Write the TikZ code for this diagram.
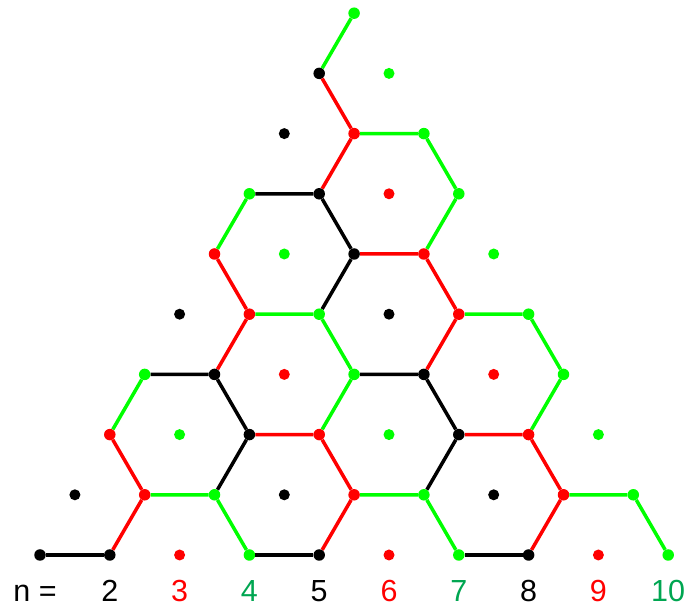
\documentclass[tikz,border=0pt]{standalone}
\usepackage{fontspec}
\setmainfont{Liberation Sans}
\usepackage{tikz}
\definecolor{c0}{RGB}{255,0,0}
\definecolor{c1}{RGB}{0,255,0}
\definecolor{c2}{RGB}{0,0,0}
\definecolor{labgreen}{RGB}{0,166,81}

\begin{document}
\begin{tikzpicture}[
  x=1pt, y=1pt,
  font=\fontsize{30.5}{36}\selectfont,
  vtx/.style={circle, inner sep=0pt, minimum size=11.5pt},
  ctr/.style={circle, inner sep=0pt, minimum size=11pt},
  link/.style={line width=3.5pt},
  lbl/.style={anchor=base, inner sep=0pt}
]
\useasboundingbox (0,0) rectangle (691,607);
% lattice points, coloured by n mod 3
\foreach \r in {0,...,9}{
  \pgfmathtruncatemacro\imax{9-\r}
  \foreach \i in {0,...,\imax}{
    \pgfmathtruncatemacro\colno{(\i==0 && (\r==0 || \r==8)) ? 2 : mod(\r+\i+1,3)}
    \pgfmathtruncatemacro\kind{mod(\i+2*\r,3)}
    \ifnum\kind=2 \def\sty{ctr}\else\def\sty{vtx}\fi
    \node[\sty, fill=c\colno] (p\r-\i) at ({40+34.9*\r+69.8*\i},{52+60.2*\r}) {};
  }
}
% black edges
\draw[link, c2] (p0-0) -- (p0-1);
\draw[link, c2] (p1-2) -- (p2-2) -- (p3-1) -- (p3-0);
\draw[link, c2] (p0-3) -- (p0-4);
\draw[link, c2] (p1-5) -- (p2-5) -- (p3-4) -- (p3-3);
\draw[link, c2] (p0-6) -- (p0-7);
\draw[link, c2] (p4-2) -- (p5-2) -- (p6-1) -- (p6-0);
% red edges
\draw[link, c0] (p0-1) -- (p1-1) -- (p2-0);
\draw[link, c0] (p0-4) -- (p1-4) -- (p2-3) -- (p2-2);
\draw[link, c0] (p4-1) -- (p3-1);
\draw[link, c0] (p0-7) -- (p1-7) -- (p2-6) -- (p2-5);
\draw[link, c0] (p3-4) -- (p4-4) -- (p5-3) -- (p5-2);
\draw[link, c0] (p5-0) -- (p4-1);
\draw[link, c0] (p8-0) -- (p7-1) -- (p6-1);
% green edges
\draw[link, c1] (p3-0) -- (p2-0);
\draw[link, c1] (p1-1) -- (p1-2) -- (p0-3);
\draw[link, c1] (p2-3) -- (p3-3) -- (p4-2) -- (p4-1);
\draw[link, c1] (p1-4) -- (p1-5) -- (p0-6);
\draw[link, c1] (p2-6) -- (p3-6) -- (p4-5) -- (p4-4);
\draw[link, c1] (p6-0) -- (p5-0);
\draw[link, c1] (p5-3) -- (p6-3) -- (p7-2) -- (p7-1);
\draw[link, c1] (p8-0) -- (p9-0);
\draw[link, c1] (p1-7) -- (p1-8) -- (p0-9);
% n labels
\coordinate (labbase) at (0,5);
\node[lbl] (nlab) at (35,5) {n =};
\foreach \k/\col in {1/black, 2/red, 3/labgreen, 4/black, 5/red, 6/labgreen, 7/black, 8/red, 9/labgreen}{
  \pgfmathtruncatemacro\num{\k+1}
  \node[lbl, text=\col] (lab\k) at (p0-\k |- labbase) {\num};
}
\end{tikzpicture}
\end{document}
